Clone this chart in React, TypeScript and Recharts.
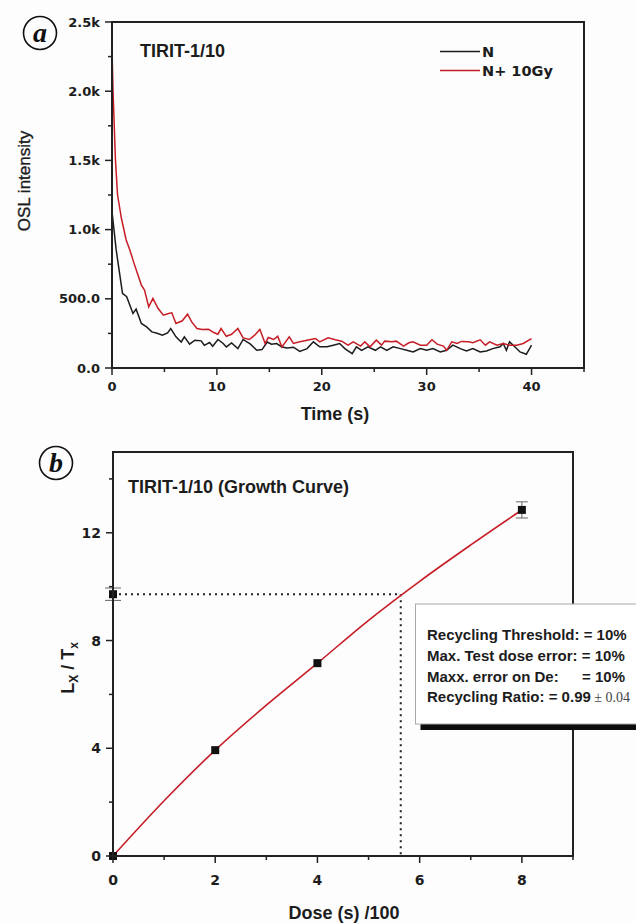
import React from 'react';
import {
  LineChart,
  ComposedChart,
  Line,
  Scatter,
  ErrorBar,
  XAxis,
  YAxis,
  ReferenceLine,
} from 'recharts';

// ---- panel a: OSL decay curves ----
const naturalTime = [
  0, 0.4, 1.0, 1.4, 2.0, 2.3, 2.8, 3.3, 3.8, 4.3, 4.8, 5.3, 5.6, 6.1, 6.6, 6.9, 7.4, 7.9, 8.5, 8.8,
  9.3, 9.6, 10.1, 10.6, 10.9, 11.4, 12.0, 12.5, 13.2, 13.8, 14.3, 14.8, 15.2, 15.7, 16.2, 16.7, 17.3,
  17.9, 18.6, 19.2, 19.8, 20.5, 21.1, 21.7, 22.2, 22.9, 23.3, 23.8, 24.4, 25.1, 25.6, 26.2, 26.8,
  27.5, 28.1, 28.7, 29.4, 30.0, 30.6, 31.3, 31.9, 32.5, 33.2, 33.8, 34.4, 35.1, 35.7, 36.3, 37.0,
  37.3, 37.6, 37.9, 38.4, 38.9, 39.5, 40.0,
];
const naturalSignal = [
  1130, 853, 539, 515, 394, 425, 322, 297, 261, 251, 237, 254, 285, 225, 188, 225, 172, 201, 196, 164,
  184, 157, 206, 177, 152, 181, 140, 206, 172, 128, 133, 188, 172, 177, 152, 145, 150, 120, 140, 189,
  153, 153, 165, 177, 140, 104, 153, 128, 153, 128, 153, 128, 153, 140, 128, 116, 140, 128, 140, 116,
  128, 165, 140, 123, 140, 116, 123, 140, 153, 177, 128, 189, 153, 116, 99, 165,
];
const dosedTime = [
  0, 0.1, 0.33, 0.53, 0.9, 1.35, 1.7, 2.1, 2.8, 3.1, 3.5, 3.9, 4.4, 4.9, 5.4, 5.7, 6.1, 6.7, 7.2, 7.6,
  8.1, 8.6, 9.2, 9.7, 10.1, 10.4, 10.9, 11.4, 12.0, 12.5, 13.1, 13.6, 14.1, 14.6, 14.9, 15.4, 15.8,
  16.2, 16.9, 17.3, 17.9, 18.6, 19.4, 19.8, 20.6, 21.3, 21.9, 22.5, 23.0, 23.7, 24.1, 24.6, 25.2,
  25.7, 26.0, 26.7, 27.1, 27.8, 28.3, 28.7, 29.4, 30.0, 30.5, 31.0, 31.6, 31.9, 32.4, 32.9, 33.3,
  34.0, 34.4, 35.1, 35.6, 36.0, 36.7, 37.3, 37.9, 38.6, 39.2, 40.0,
];
const dosedSignal = [
  2300, 2000, 1500, 1250, 1080, 925, 853, 756, 599, 563, 442, 503, 430, 382, 394, 399, 322, 341, 389, 333,
  285, 278, 280, 256, 244, 285, 229, 244, 285, 217, 206, 237, 278, 177, 220, 206, 229, 152, 225, 177,
  189, 201, 213, 189, 218, 204, 194, 165, 189, 158, 189, 153, 201, 165, 194, 189, 194, 158, 182, 189,
  165, 165, 204, 172, 158, 128, 189, 177, 192, 189, 182, 204, 165, 189, 165, 177, 165, 165, 177, 213,
];
const timeTicks = [0, 5, 10, 15, 20, 25, 30, 35, 40, 45];
const timeLabels = ['0', '', '10', '', '20', '', '30', '', '40', ''];
const intensityTicks = [0, 250, 500, 750, 1000, 1250, 1500, 1750, 2000, 2250, 2500];
const intensityLabels = ['0.0', '', '500.0', '', '1.0k', '', '1.5k', '', '2.0k', '', '2.5k'];

// ---- panel b: growth curve ----
const regenDose = [0, 2, 4, 8];
const regenRatio = [0, 3.93, 7.16, 12.85];
const regenError = [0, 0, 0, 0.3];
const naturalDose = [0];
const naturalRatio = [9.72];
const naturalError = [0.23];
const fitDose = [0, 1, 2, 3, 4, 5, 6, 7, 8];
const fitRatio = [0, 2.05, 3.93, 5.6, 7.16, 8.75, 10.2, 11.55, 12.85];
const equivalentDose = 5.63;
const doseTicks = [0, 1, 2, 3, 4, 5, 6, 7, 8, 9];
const doseLabels = ['0', '', '2', '', '4', '', '6', '', '8', ''];
const ratioTicks = [0, 2, 4, 6, 8, 10, 12, 14];
const ratioLabels = ['0', '', '4', '', '8', '', '12', ''];

const AXIS = '#222';
const BLACK = '#1c1c1c';
const RED = '#c61d27';
const TICK_FONT = '"DejaVu Sans", sans-serif';
const TEXT_FONT = '"Liberation Sans", Arial, sans-serif';
// recharts places the tick anchor tickSize + tickMargin away from the axis line
const TICK_OFFSET = 8;

// layout of the two panels (page pixels)
const W = 636;
const A = { top: 0, height: 440, mTop: 22, mRight: 52, mBottom: 42, yWidth: 112, xHeight: 30 };
const B = { top: 440, height: 483, mTop: 12, mRight: 63, mBottom: 37, yWidth: 113, xHeight: 30 };
const plotBox = (p: typeof A) => ({
  x: p.yWidth,
  y: p.top + p.mTop,
  w: W - p.mRight - p.yWidth,
  h: p.height - p.mTop - p.mBottom - p.xHeight,
});

const naturalData = naturalTime.map((t, i) => ({ t, v: naturalSignal[i] }));
const dosedData = dosedTime.map((t, i) => ({ t, v: dosedSignal[i] }));
const regenData = regenDose.map((x, i) => ({ x, y: regenRatio[i], err: regenError[i] }));
const naturalPoint = naturalDose.map((x, i) => ({ x, y: naturalRatio[i], err: naturalError[i] }));
const fitData = fitDose.map((x, i) => ({ x, y: fitRatio[i] }));

// ticks drawn by hand so minor ticks get a shorter stroke and no label
const leftTick = (ticks: number[], labels: string[], size: number) => (props: any) => {
  const { y, payload } = props;
  const x = props.x + TICK_OFFSET;
  const label = labels[ticks.indexOf(payload.value)] ?? '';
  const major = label !== '';
  return (
    <g>
      <line x1={x} y1={y} x2={x - (major ? 7 : 4)} y2={y} stroke={AXIS} strokeWidth={1.5} />
      {major && (
        <text x={x - 12} y={y} dy="0.36em" textAnchor="end" fontFamily={TICK_FONT} fontWeight="bold" fontSize={size} fill={BLACK}>
          {label}
        </text>
      )}
    </g>
  );
};

const bottomTick = (ticks: number[], labels: string[], size: number, gap: number) => (props: any) => {
  const { x, payload } = props;
  const y = props.y - TICK_OFFSET;
  const label = labels[ticks.indexOf(payload.value)] ?? '';
  const major = label !== '';
  return (
    <g>
      <line x1={x} y1={y} x2={x} y2={y + (major ? 7 : 4)} stroke={AXIS} strokeWidth={1.5} />
      {major && (
        <text x={x} y={y + gap} dy="0.36em" textAnchor="middle" fontFamily={TICK_FONT} fontWeight="bold" fontSize={size} fill={BLACK}>
          {label}
        </text>
      )}
    </g>
  );
};

const PanelMark = ({ cx, cy, letter }: { cx: number; cy: number; letter: string }) => (
  <g>
    <circle cx={cx} cy={cy} r={16.5} fill="none" stroke="#111" strokeWidth={1.6} />
    <text x={cx} y={cy} dy="0.33em" textAnchor="middle" fontFamily='"Liberation Serif", serif' fontStyle="italic" fontWeight="bold" fontSize={28} fill="#111">
      {letter}
    </text>
  </g>
);

const Frame = ({ p }: { p: typeof A }) => {
  const b = plotBox(p);
  return <rect x={b.x} y={b.y} width={b.w} height={b.h} fill="none" stroke={AXIS} strokeWidth={2} />;
};

const Annotations = () => (
  <svg width={W} height={923} style={{ position: 'absolute', left: 0, top: 0, pointerEvents: 'none' }}>
    <Frame p={A} />
    <Frame p={B} />
    <PanelMark cx={40} cy={33} letter="a" />
    <PanelMark cx={56} cy={463} letter="b" />

    {/* panel a */}
    <text x={140} y={57} fontFamily={TEXT_FONT} fontWeight="bold" fontSize={18} fill={BLACK}>TIRIT-1/10</text>
    <line x1={440} y1={51.5} x2={480} y2={51.5} stroke={BLACK} strokeWidth={1.6} />
    <text x={482} y={51.5} dy="0.36em" fontFamily={TICK_FONT} fontWeight="bold" fontSize={14.5} fill={BLACK}>N</text>
    <line x1={440} y1={70.5} x2={480} y2={70.5} stroke={RED} strokeWidth={1.6} />
    <text x={482} y={70.5} dy="0.36em" fontFamily={TICK_FONT} fontWeight="bold" fontSize={14.5} fill={BLACK}>N+ 10Gy</text>
    <text
      x={24}
      y={181}
      dy="0.36em"
      transform="rotate(-90 24 181)"
      textAnchor="middle"
      fontFamily={TEXT_FONT}
      fontSize={17}
      fill={BLACK}
      stroke={BLACK}
      strokeWidth={0.35}
    >
      OSL intensity
    </text>
    <text x={335} y={420} textAnchor="middle" fontFamily={TEXT_FONT} fontWeight="bold" fontSize={18} fill={BLACK}>Time (s)</text>

    {/* panel b */}
    <text x={128} y={493} fontFamily={TEXT_FONT} fontWeight="bold" fontSize={18} fill={BLACK}>TIRIT-1/10 (Growth Curve)</text>
    <text x={74} y={668} transform="rotate(-90 74 668)" textAnchor="middle" fontFamily={TEXT_FONT} fontWeight="bold" fontSize={18} fill={BLACK}>
      L<tspan fontSize={12} dy={4}>X</tspan>
      <tspan dy={-4}> / T</tspan>
      <tspan fontSize={12} dy={4}>x</tspan>
    </text>
    <text x={344} y={919} textAnchor="middle" fontFamily={TEXT_FONT} fontWeight="bold" fontSize={18} fill={BLACK}>Dose (s) /100</text>

    <rect x={420.5} y={724} width={230} height={6} fill="#0d0d0d" />
    <rect x={415.5} y={604} width={240} height={120} fill="#ffffff" stroke="#a8a8a8" strokeWidth={1} />
    <g fontFamily={TEXT_FONT} fontWeight="bold" fontSize={15} fill={BLACK}>
      <text x={427} y={640}>Recycling Threshold: = 10%</text>
      <text x={427} y={661}>Max. Test dose error: = 10%</text>
      <text x={427} y={681.5}>Maxx. error on De:</text>
      <text x={625} y={681.5} textAnchor="end">= 10%</text>
      <text x={427} y={702}>
        Recycling Ratio: = 0.99
        <tspan fontFamily='"Liberation Serif", serif' fontWeight="normal" fontSize={14} fill="#444"> ± 0.04</tspan>
      </text>
    </g>
  </svg>
);

export default function App() {
  return (
    <div style={{ position: 'absolute', left: 0, top: 0, width: W, height: 923, overflow: 'hidden', background: '#fdfdfd' }}>
      <div style={{ position: 'absolute', left: 0, top: A.top }}>
        <LineChart width={W} height={A.height} margin={{ top: A.mTop, right: A.mRight, bottom: A.mBottom, left: 0 }}>
          <XAxis
            type="number"
            dataKey="t"
            domain={[0, 45]}
            ticks={timeTicks}
            interval={0}
            tickSize={6}
            tickMargin={2}
            tickLine={false}
            stroke={AXIS}
            strokeWidth={2}
            tick={bottomTick(timeTicks, timeLabels, 13, 18)}
            height={A.xHeight}
          />
          <YAxis
            type="number"
            domain={[0, 2500]}
            ticks={intensityTicks}
            interval={0}
            tickSize={6}
            tickMargin={2}
            tickLine={false}
            stroke={AXIS}
            strokeWidth={2}
            tick={leftTick(intensityTicks, intensityLabels, 13)}
            width={A.yWidth}
          />
          <Line data={naturalData} dataKey="v" type="linear" stroke={BLACK} strokeWidth={1.5} dot={false} isAnimationActive={false} />
          <Line data={dosedData} dataKey="v" type="linear" stroke={RED} strokeWidth={1.5} dot={false} isAnimationActive={false} />
        </LineChart>
      </div>

      <div style={{ position: 'absolute', left: 0, top: B.top }}>
        <ComposedChart width={W} height={B.height} margin={{ top: B.mTop, right: B.mRight, bottom: B.mBottom, left: 0 }}>
          <XAxis
            type="number"
            dataKey="x"
            domain={[0, 9]}
            ticks={doseTicks}
            interval={0}
            tickSize={6}
            tickMargin={2}
            tickLine={false}
            stroke={AXIS}
            strokeWidth={2}
            tick={bottomTick(doseTicks, doseLabels, 14, 24)}
            height={B.xHeight}
          />
          <YAxis
            type="number"
            dataKey="y"
            domain={[0, 15]}
            ticks={ratioTicks}
            interval={0}
            tickSize={6}
            tickMargin={2}
            tickLine={false}
            stroke={AXIS}
            strokeWidth={2}
            tick={leftTick(ratioTicks, ratioLabels, 14)}
            width={B.yWidth}
          />
          <ReferenceLine
            segment={[{ x: 0, y: naturalRatio[0] }, { x: equivalentDose, y: naturalRatio[0] }]}
            stroke="#222"
            strokeWidth={2}
            strokeDasharray="2 4"
          />
          <ReferenceLine
            segment={[{ x: equivalentDose, y: naturalRatio[0] }, { x: equivalentDose, y: 0 }]}
            stroke="#222"
            strokeWidth={2}
            strokeDasharray="2 4"
          />
          <Line data={fitData} dataKey="y" type="monotone" stroke={RED} strokeWidth={1.6} dot={false} isAnimationActive={false} />
          <Scatter data={regenData} shape="square" fill="#111" isAnimationActive={false}>
            <ErrorBar dataKey="err" direction="y" width={6} stroke="#666" strokeWidth={1} />
          </Scatter>
          <Scatter data={naturalPoint} shape="square" fill="#111" isAnimationActive={false}>
            <ErrorBar dataKey="err" direction="y" width={8} stroke="#666" strokeWidth={1} />
          </Scatter>
        </ComposedChart>
      </div>

      <Annotations />
    </div>
  );
}
